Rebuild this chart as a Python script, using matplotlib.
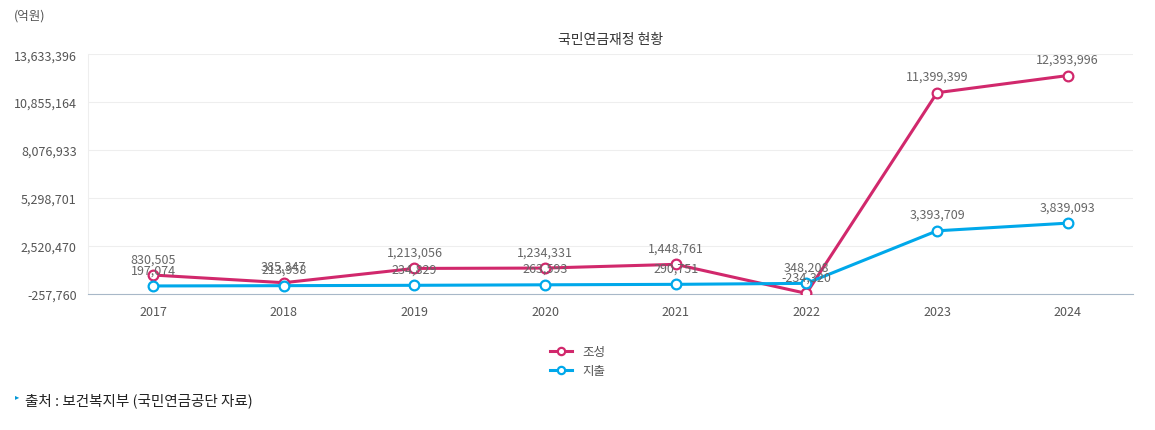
import matplotlib
matplotlib.use("Agg")
import matplotlib.pyplot as plt
from matplotlib import font_manager as fm
import numpy as np

years = ["2017", "2018", "2019", "2020", "2021", "2022", "2023", "2024"]
josung = [830505, 385347, 1213056, 1234331, 1448761, -234320, 11399399, 12393996]
jichul = [197074, 213958, 234829, 263593, 290751, 348208, 3393709, 3839093]
yticks = [-257760, 2520470, 5298701, 8076933, 10855164, 13633396]

names = sorted({f.name for f in fm.fontManager.ttflist if "CJK" in f.name})
pref = [n for n in names if "KR" in n] + names
plt.rcParams["font.family"] = (pref[:1] if pref else []) + ["DejaVu Sans"]

fig = plt.figure(figsize=(11.55, 4.31), dpi=100)
ax = fig.add_axes([0.076, 0.316, 0.905, 0.556])
x = np.arange(len(years))
c1, c2 = "#d1286c", "#00a8ea"
ax.plot(x, josung, color=c1, lw=2.2, marker="o", ms=7, mfc="white", mec=c1, mew=1.6, label="조성", zorder=3)
ax.plot(x, jichul, color=c2, lw=2.2, marker="o", ms=7, mfc="white", mec=c2, mew=1.6, label="지출", zorder=3)
for xi, v in zip(x, josung):
    ax.annotate(f"{v:,}", (xi, v), xytext=(0, 7), textcoords="offset points", ha="center", va="bottom", fontsize=9, color="#666666")
for xi, v in zip(x, jichul):
    ax.annotate(f"{v:,}", (xi, v), xytext=(0, 7), textcoords="offset points", ha="center", va="bottom", fontsize=9, color="#666666")
ax.set_xlim(-0.5, 7.5)
ax.set_ylim(yticks[0], yticks[-1])
ax.set_yticks(yticks)
ax.set_yticklabels([f"{t:,}" for t in yticks])
ax.set_xticks(x)
ax.set_xticklabels(years)
ax.tick_params(length=0, labelsize=9, colors="#555555", pad=8)
ax.grid(axis="y", color="#eeeeee", lw=0.8)
for s in ["top", "right"]:
    ax.spines[s].set_visible(False)
ax.spines["left"].set_color("#eeeeee")
ax.spines["bottom"].set_color("#a8b8c8")
ax.set_title("국민연금재정 현황", fontsize=10, color="#333333", pad=8)
fig.text(0.012, 0.955, "(억원)", fontsize=9, color="#555555")
fig.legend(loc="center", bbox_to_anchor=(0.5, 0.16), frameon=False, fontsize=9, labelcolor="#555555",
           handlelength=1.8, markerscale=0.75)
fig.text(0.013, 0.075, "▸", fontsize=6, color="#0096d6")
fig.text(0.022, 0.06, "출처 : 보건복지부 (국민연금공단 자료)", fontsize=10.5, color="#222222")
fig.savefig("out.png", dpi=100)
